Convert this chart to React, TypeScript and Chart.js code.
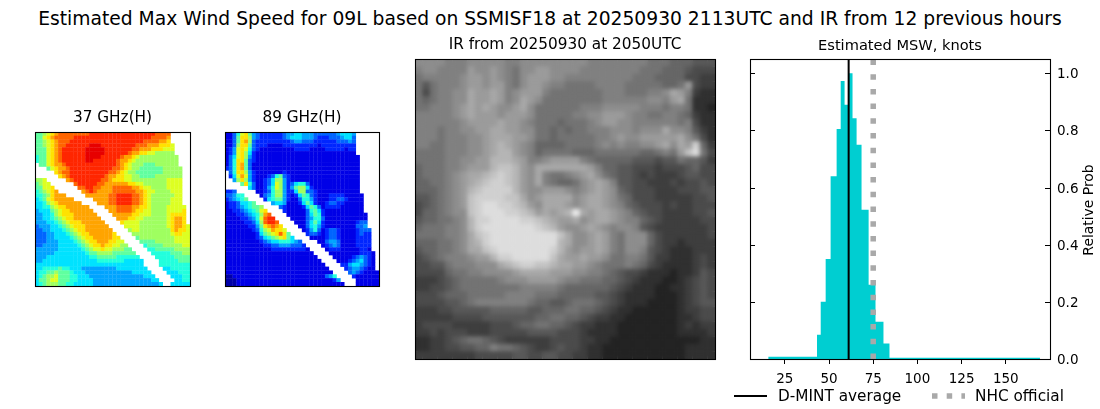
import { useEffect, useRef } from "react";
import { Chart } from "chart.js/auto";

const FONT = "'DejaVu Sans', sans-serif";

const mainTitle =
  "Estimated Max Wind Speed for 09L based on SSMISF18 at 20250930 2113UTC and IR from 12 previous hours";

// brightness grids, one hex level per cell, "." = no data
const ghz37Rows = [
  "7789abccccccccdddddddddddddddddcccc.....",
  "779abcccccddddddddddddddddddddccccb.....",
  "7789abcccdddddddddddddddddddccccbba.....",
  "7789abccddddddeeedddddddddcccbbbaaa9....",
  "7779abcddddddeeeeedddddddccbbbaaa999....",
  "7779abcddddddeeeeeddddddcbbaa9988888....",
  "6779abcddddddeeeedddddcbba98888888888...",
  "6779abcddddddeeddddddcbba988888888888...",
  ".779abbcdddddddddddddcba9888777888888...",
  "...79abbcdddddddddddccba98877777788888..",
  ".....abccddddddddddccba988777777788888..",
  "......abcdddddddddcbbaa998877778888888..",
  "889.....bcdddddddccbaaa998888888889999..",
  "7899......cdddddccbbbbbbaa998888889999..",
  "7799a......ccddccbbbcccccbba9988889999..",
  "6789ab......bcdcbbbbccccccbba998888999..",
  "6678abbb.....bbbbbbccddddccba988888899..",
  "5679abbbbb.....bbbbccddddccba988888999..",
  "55689abbbbbb....bbbccddddccba988888999..",
  "556689aabbbbbb....bbbccccbbaa9888899999.",
  "4555789aabbbbbb....bbccccbaa9988889999a.",
  "4455689aaabbbbbb....bbbbbaa99988889aaaa.",
  "44556789aabbbbbbb....bbbaa998888889abba.",
  "444556789aaabbbbbb....a999988888889abba.",
  "3444556789aaabbbbbb....999988888889abba9",
  "33445556789aabbbbbbb....89988888888abaa9",
  "333445556789aabbbbbba....88888888889aa99",
  "3334455556789aabbbbbaa....78888888889999",
  "33344455556789aabbbaa99....7777888889999",
  "334444555556789aabaa9988....677778888899",
  "44444455555567899a9988877....66777778888",
  "44444555555556778888777777....6666677788",
  "444555555555556677777666666....666667777",
  "4455555555555555666666655555....66666777",
  "5555555555555555555555555555....66666666",
  "55666676655544444444455555555....5566666",
  "566778777655544444444444455555....555666",
  "5678897776655544444444444444555....55566",
  "57789977766555544444444444444455....5566",
  "567888776655555444444444444444445..55555",
];

const ghz89Rows = [
  "11369a7432222223445544433333345554......",
  "1137aa8432222223455544432223334553......",
  "1137ab8322222222234433322222233343......",
  "1138aa7322211112222222221222222222......",
  "1249a96321111111112222111122222122......",
  "1249a85211111111111111111111111111......",
  "1359a842111111111111111111111111111.....",
  "136aa732111111111111111111111111111.....",
  "136ab731111111111111111111111111111.....",
  "236ab731111111111111111111111111111.....",
  ".36aa842111111121111111111111111111.....",
  ".259b942111236732111111111111111111.....",
  "..48a842112358842111111111111111111.....",
  "....7a63112359842356631111111111111.....",
  "......53112469842478852111111111111.....",
  "223.....112368842258833211111111111.....",
  "33466....134688421257632111222211111....",
  "234567....25677421136642111223321111....",
  "12235567....455411125752112332211111....",
  "1223456778....3211112576312222111111....",
  "1122345679a....211111367521111111111....",
  "1112234568bc....111113576211111111111...",
  "1111223469cdd....11113466311111111111...",
  "1111122358cddc....1113575211111111233...",
  "1111112247abcba....113564211111111334...",
  "111111123689baa9....124631233211112333..",
  "1111111125789aca7....23321233211112322..",
  "111111112356789a75....1111233211112222..",
  "11111111123455666543....11344311112222..",
  "111111111122334443332....1234311112222..",
  "1111111111112222222221....122211111221..",
  "11111111111111111111111....111111112221.",
  "111111111111111111111111....11111234321.",
  "1111111111111111111111111....1112345321.",
  "11111111111111111111111111....224554321.",
  "111111111111111111111111111....23443211.",
  "1111111111111111111111111111....34321111",
  "00111111111111111111111111346....2111111",
  "000111111111111111111111111124....111111",
  "0001111111111111111111111111111...111111",
];

const irRows = [
  "8888777888887788888888877777777666555444",
  "7887777988987688998888777777776665554333",
  "6777778998987689998877777777766655553322",
  "6467778998997689987766667777666665569322",
  "6367788a99a97899976666666777666778a97211",
  "6567788a99a978a98666666667777778879a6111",
  "6677789a9a9889a8666666777888887776776110",
  "7777789a99989998666667788999877667765211",
  "77777789999a9987666566678998877777767311",
  "7776778899aa998866565667778887888a887421",
  "7776777889aaa9986656666677898899999a8631",
  "7766777889aba98755556666787877889a8a9d52",
  "6666777889abb98756666555666666556769ce63",
  "6666778899bbba97789999765555544434465542",
  "5666778999bccb98aaaaaaa97554433323334533",
  "5666789aabcdcb98a766789a8654432322234433",
  "5566789abcddcb98a7655689a974433222323343",
  "5556789bcddddb9889998789a985433322233344",
  "4456789cddddcca89aaaa89aa986533322222334",
  "3456789cdeeddcb98aaa989aa987543332322333",
  "3556788cdeeeddcb9a9abfa9aa98754332222334",
  "4556678bddeeeeddcba99a89aa98775432222233",
  "5666778bdeeeeeeedcb9889a9878874322222223",
  "6666778acdeeeeeeeeeca889a976888532222223",
  "5556678abdeeeeeeeeeba889a976888532212222",
  "4556678aacdeeeeeeedb9899a976887432111222",
  "3456777899bddeeeeeca99a99866776422111232",
  "33446777888abcddccbaa9987666765321111232",
  "33335667788889aaaa9998877654332111011243",
  "2223456666678889999877666554321110012343",
  "2233456666666677777655555543211100112343",
  "3334555666667777666555554432111100012343",
  "3333445677777776554456665432111000012344",
  "2223344444555554455566554321100000012233",
  "2222233334444444556655432211000000011233",
  "2333322222333455665543221110000000012122",
  "2232333222333334444333211110000000011112",
  "1122345665432222223333221100000000000011",
  "1122334455766543223433211000000000001111",
  "2222222233333443344332211000000000001111",
];

// histogram, bin edges in knots and relative probability per bin
const binEdges = [15.6, 43.2, 45.3, 48.1, 50.9, 54.3, 56.6, 58.8, 61.1, 63.3, 65.6, 68.4, 72.4, 76.3, 80.8, 84.2, 169.4];
const binHeights = [0.008, 0.085, 0.2, 0.35, 0.64, 0.805, 0.973, 0.89, 1.0, 0.843, 0.75, 0.522, 0.26, 0.13, 0.054, 0.004, 0];
const xTicks = [25, 50, 75, 100, 125, 150];
const yTicks = [0, 0.2, 0.4, 0.6, 0.8, 1.0];
const dmintAverage = 61.1;
const nhcOfficial = 75;
const legendLabels = ["D-MINT average", "NHC official"];

const jet = (level: number) => {
  const t = 0.04 + (level / 15) * 0.92;
  const c = (o: number) => Math.round(255 * Math.min(1, Math.max(0, 1.5 - Math.abs(4 * t - o))));
  return `rgb(${c(3)},${c(2)},${c(1)})`;
};

const gray = (level: number) => {
  const g = Math.round(35 + level * 13.3);
  return `rgb(${g},${g},${g})`;
};

const framePlugin = {
  id: "frame",
  afterDraw(chart: any) {
    const { ctx, chartArea: a } = chart;
    ctx.save();
    ctx.strokeStyle = "#000";
    ctx.lineWidth = 1.1;
    ctx.strokeRect(a.left + 0.5, a.top + 0.5, a.right - a.left, a.bottom - a.top);
    ctx.restore();
  },
};

// softens the cells of the IR image, the frame is drawn later and stays sharp
const softenPlugin = {
  id: "soften",
  afterDatasetsDraw(chart: any) {
    const { ctx, chartArea: a, canvas } = chart;
    ctx.save();
    ctx.beginPath();
    ctx.rect(a.left, a.top, a.right - a.left, a.bottom - a.top);
    ctx.clip();
    ctx.filter = "blur(2px)";
    ctx.drawImage(canvas, 0, 0, chart.width, chart.height);
    ctx.restore();
  },
};

const histDecorPlugin = {
  id: "histDecor",
  afterDraw(chart: any) {
    const { ctx, chartArea: a, scales } = chart;
    ctx.save();
    ctx.strokeStyle = "#000";
    ctx.lineWidth = 1;
    yTicks.forEach((v) => {
      const y = Math.round(scales.y.getPixelForValue(v)) + 0.5;
      ctx.beginPath();
      ctx.moveTo(a.left, y);
      ctx.lineTo(a.left + 5, y);
      ctx.moveTo(a.right, y);
      ctx.lineTo(a.right - 5, y);
      ctx.stroke();
    });

    ctx.fillStyle = "#000";
    ctx.font = `13.9px ${FONT}`;
    ctx.textAlign = "center";
    ctx.textBaseline = "middle";
    ctx.save();
    ctx.translate(359, 180);
    ctx.rotate(-Math.PI / 2);
    ctx.fillText("Relative Prob", 0, 0);
    ctx.restore();

    const legendY = 366;
    ctx.font = `15.3px ${FONT}`;
    ctx.textAlign = "left";
    ctx.lineWidth = 2;
    ctx.beginPath();
    ctx.moveTo(4, legendY);
    ctx.lineTo(37, legendY);
    ctx.stroke();
    ctx.fillText(legendLabels[0], 48, legendY + 1);

    ctx.strokeStyle = "#a9a9a9";
    ctx.lineWidth = 5.5;
    ctx.setLineDash([5.5, 9.2]);
    ctx.beginPath();
    ctx.moveTo(202, legendY);
    ctx.lineTo(235, legendY);
    ctx.stroke();
    ctx.fillText(legendLabels[1], 245, legendY + 1);
    ctx.restore();
  },
};

const heatConfig = (rows: string[], title: string, color: (l: number) => string, radius: number, soften: boolean) => {
  const points: { x: number; y: number }[] = [];
  const colors: string[] = [];
  rows.forEach((row, r) => {
    row.split("").forEach((ch, c) => {
      if (ch === ".") return;
      points.push({ x: c + 0.5, y: r + 0.5 });
      colors.push(color(parseInt(ch, 16)));
    });
  });
  return {
    type: "scatter",
    data: {
      datasets: [
        {
          data: points,
          pointStyle: "rect",
          pointRadius: radius,
          pointBorderWidth: 0,
          pointBackgroundColor: colors,
        },
      ],
    },
    options: {
      animation: false,
      responsive: false,
      events: [],
      layout: { autoPadding: false, padding: { left: 3, right: 3, bottom: 3 } },
      plugins: {
        legend: { display: false },
        tooltip: { enabled: false },
        title: {
          display: true,
          text: title,
          color: "#000",
          font: { family: FONT, size: 15.3, weight: "normal", lineHeight: "20px" },
          padding: { top: 0, bottom: 4 },
        },
      },
      scales: {
        x: { type: "linear", display: false, min: 0, max: rows.length },
        y: { type: "linear", display: false, min: 0, max: rows.length, reverse: true },
      },
    },
    plugins: soften ? [softenPlugin, framePlugin] : [framePlugin],
  };
};

const histConfig = () => ({
  type: "line",
  data: {
    datasets: [
      {
        data: [{ x: nhcOfficial, y: 0 }, { x: nhcOfficial, y: 1.05 }],
        borderColor: "#a9a9a9",
        borderWidth: 5.5,
        borderDash: [5.5, 9.2],
        pointRadius: 0,
        order: 1,
      },
      {
        data: [{ x: dmintAverage, y: 0 }, { x: dmintAverage, y: 1.05 }],
        borderColor: "#000",
        borderWidth: 2,
        pointRadius: 0,
        order: 2,
      },
      {
        data: binEdges.map((x, i) => ({ x, y: binHeights[i] })),
        stepped: "before",
        fill: "origin",
        backgroundColor: "#00ced1",
        borderWidth: 0,
        pointRadius: 0,
        order: 3,
      },
    ],
  },
  options: {
    animation: false,
    responsive: false,
    events: [],
    layout: { autoPadding: false, padding: { left: 20 } },
    plugins: {
      legend: { display: false },
      tooltip: { enabled: false },
      title: {
        display: true,
        text: "Estimated MSW, knots",
        fullSize: false,
        color: "#000",
        font: { family: FONT, size: 14.6, weight: "normal", lineHeight: "20px" },
        padding: { top: 6, bottom: 3 },
      },
    },
    scales: {
      x: {
        type: "linear",
        min: 5.3,
        max: 175,
        afterBuildTicks: (s: any) => {
          s.ticks = xTicks.map((value) => ({ value }));
        },
        afterFit: (s: any) => {
          s.height = 50;
        },
        border: { display: false },
        grid: { drawOnChartArea: false, tickLength: 5, tickColor: "#000", tickWidth: 1 },
        ticks: { color: "#000", font: { family: FONT, size: 13.5 }, padding: 7, maxRotation: 0 },
      },
      y: {
        type: "linear",
        position: "right",
        min: 0,
        max: 1.05,
        afterBuildTicks: (s: any) => {
          s.ticks = yTicks.map((value) => ({ value }));
        },
        afterFit: (s: any) => {
          s.width = 50;
        },
        border: { display: false },
        grid: { display: false, drawTicks: false },
        ticks: {
          color: "#000",
          font: { family: FONT, size: 13.5 },
          padding: 7,
          labelOffset: 1.5,
          callback: (v: any) => Number(v).toFixed(1),
        },
      },
    },
  },
  plugins: [framePlugin, histDecorPlugin],
});

const Panel = ({ left, top, width, height, make }: any) => {
  const canvasRef = useRef<HTMLCanvasElement | null>(null);

  useEffect(() => {
    if (!canvasRef.current) return;
    const chart = new Chart(canvasRef.current, make());
    return () => chart.destroy();
  }, []);

  return (
    <canvas
      ref={canvasRef}
      width={width}
      height={height}
      style={{ position: "absolute", left, top, width, height }}
    />
  );
};

const App = () => (
  <div>
    <div
      style={{
        position: "absolute",
        left: 0,
        top: 8,
        width: 1100,
        textAlign: "center",
        fontFamily: FONT,
        fontSize: 18.72,
        whiteSpace: "nowrap",
        color: "#000",
      }}
    >
      {mainTitle}
    </div>
    <Panel left={32} top={108} width={161} height={181}
      make={() => heatConfig(ghz37Rows, "37 GHz(H)", jet, 2.95, false)} />
    <Panel left={222} top={108} width={160} height={181}
      make={() => heatConfig(ghz89Rows, "89 GHz(H)", jet, 2.95, false)} />
    <Panel left={412} top={35} width={306} height={327}
      make={() => heatConfig(irRows, "IR from 20250930 at 2050UTC", gray, 5.5, true)} />
    <Panel left={730} top={30} width={370} height={379} make={histConfig} />
  </div>
);

export default App;
